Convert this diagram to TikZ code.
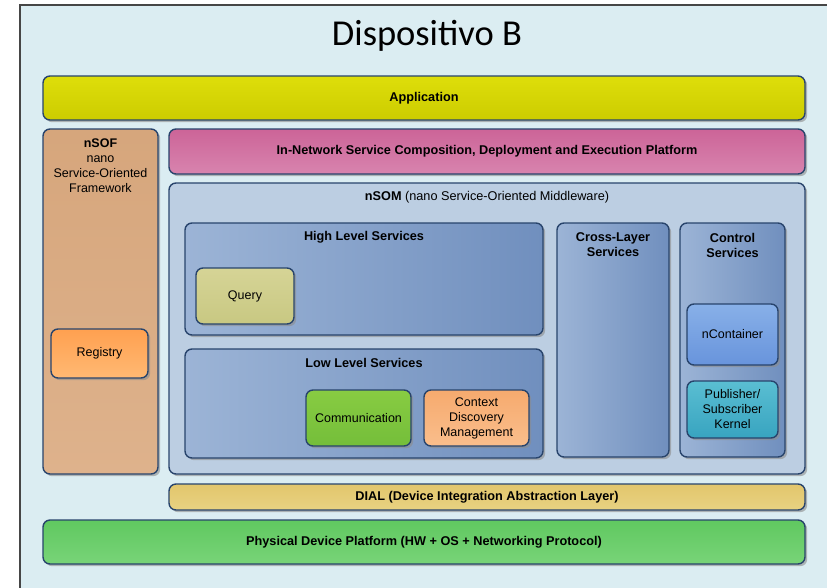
\documentclass[tikz,border=0pt]{standalone}
\usepackage{fontspec}
\setmainfont{Liberation Sans}
\newfontfamily\titlefont{Carlito}
\usetikzlibrary{fit,shadows}

\definecolor{pagebg}{RGB}{219,237,242}
\definecolor{framecol}{RGB}{70,70,70}
\definecolor{edge}{RGB}{40,68,108}
\definecolor{appA}{RGB}{204,204,0}
\definecolor{appB}{RGB}{222,222,10}
\definecolor{sofA}{RGB}{214,166,124}
\definecolor{sofB}{RGB}{222,178,140}
\definecolor{regA}{RGB}{255,160,80}
\definecolor{regB}{RGB}{255,185,115}
\definecolor{innA}{RGB}{204,100,152}
\definecolor{innB}{RGB}{216,132,174}
\definecolor{somcol}{RGB}{188,206,226}
\definecolor{svcA}{RGB}{156,180,214}
\definecolor{svcB}{RGB}{112,143,190}
\definecolor{qryA}{RGB}{214,212,150}
\definecolor{qryB}{RGB}{200,200,130}
\definecolor{comA}{RGB}{136,204,66}
\definecolor{comB}{RGB}{116,190,58}
\definecolor{ctxA}{RGB}{246,170,110}
\definecolor{ctxB}{RGB}{250,190,140}
\definecolor{ncoA}{RGB}{136,176,232}
\definecolor{ncoB}{RGB}{104,148,220}
\definecolor{pubA}{RGB}{90,190,210}
\definecolor{pubB}{RGB}{56,164,192}
\definecolor{dialA}{RGB}{226,198,108}
\definecolor{dialB}{RGB}{232,210,130}
\definecolor{phyA}{RGB}{96,200,96}
\definecolor{phyB}{RGB}{120,212,120}

\tikzset{
  blk/.style={draw=edge, line width=1.4pt, rounded corners=7pt, inner sep=0pt,
    drop shadow={shadow xshift=2.2pt, shadow yshift=-2.2pt, fill=black!45, opacity=0.6}},
  grad/.style 2 args={top color=#1, bottom color=#2},
  capb/.style={font=\fontsize{12.7}{15}\selectfont\bfseries, align=center},
  capn/.style={font=\fontsize{12.5}{15}\selectfont, align=center},
}

\begin{document}
\begin{tikzpicture}[x=1pt,y=-1pt]
  \useasboundingbox (0,0) rectangle (827,587);
  \fill[white] (0,0) rectangle (827,587);
  % outer device frame, running off the right and bottom edges
  \draw[framecol, line width=1.2pt, fill=pagebg] (20,5) rectangle (850,610);
  \node[font=\titlefont\fontsize{36.5}{40}\selectfont] (title) at (427,36) {Dispositivo B};

  % application layer
  \node[blk, grad={appB}{appA}, fit={(43,76) (805,120)}] (app) {};
  \node[capb] (appt) at (app.center) {Application};

  % nSOF column
  \node[blk, grad={sofA}{sofB}, fit={(43,129) (158,474)}] (nsof) {};
  \node[capn, anchor=north] (nsoft) at (100.5,135.5)
    {\textbf{nSOF}\\nano\\Service-Oriented\\Framework};
  \node[blk, grad={regA}{regB}, fit={(51,329) (148,378)}] (reg) {};
  \node[capn] (regt) at (reg.center) {Registry};

  % in-network platform
  \node[blk, grad={innA}{innB}, fit={(169,129) (805,174)}] (inn) {};
  \node[capb] (innt) at (inn.center)
    {In-Network Service Composition, Deployment and Execution Platform};

  % nSOM middleware
  \node[blk, fill=somcol, fit={(169,183) (805,474)}] (nsom) {};
  \node[capn, font=\fontsize{12.7}{15}\selectfont] (nsomt) at (487,197)
    {\textbf{nSOM} (nano Service-Oriented Middleware)};

  % high level services
  \node[blk, left color=svcA, right color=svcB, fit={(185,223) (543,335)}] (hls) {};
  \node[capb] (hlst) at (364,237) {High Level Services};
  \node[blk, grad={qryA}{qryB}, fit={(196,268) (294,324)}] (qry) {};
  \node[capn] (qryt) at (qry.center) {Query};

  % low level services
  \node[blk, left color=svcA, right color=svcB, fit={(185,349) (543,458)}] (lls) {};
  \node[capb] (llst) at (364,363) {Low Level Services};
  \node[blk, grad={comA}{comB}, fit={(306,390) (411,446)}] (com) {};
  \node[capn] (comt) at (com.center) {Communication};
  \node[blk, grad={ctxA}{ctxB}, fit={(424,390) (529,446)}] (ctx) {};
  \node[capn] (ctxt) at (ctx.center) {Context\\Discovery\\Management};

  % cross-layer services
  \node[blk, left color=svcA, right color=svcB, fit={(557,223) (669,457)}] (cls) {};
  \node[capb, anchor=north] (clst) at (613,229.5) {Cross-Layer\\Services};

  % control services
  \node[blk, left color=svcA, right color=svcB, fit={(680,223) (785,457)}] (ctl) {};
  \node[capb, anchor=north] (ctlt) at (732.5,229.5) {Control\\Services};
  \node[blk, grad={ncoA}{ncoB}, fit={(687,304) (778,365)}] (nco) {};
  \node[capn] (ncot) at (nco.center) {nContainer};
  \node[blk, grad={pubA}{pubB}, fit={(687,381) (778,438)}] (pub) {};
  \node[capn] (pubt) at (pub.center) {Publisher/\\Subscriber\\Kernel};

  % device integration abstraction layer
  \node[blk, grad={dialA}{dialB}, fit={(169,484) (805,510)}] (dial) {};
  \node[capb] (dialt) at (dial.center) {DIAL (Device Integration Abstraction Layer)};

  % physical device platform
  \node[blk, grad={phyA}{phyB}, fit={(43,520) (805,564)}] (phy) {};
  \node[capb] (phyt) at (phy.center) {Physical Device Platform (HW + OS + Networking Protocol)};
\end{tikzpicture}
\end{document}
